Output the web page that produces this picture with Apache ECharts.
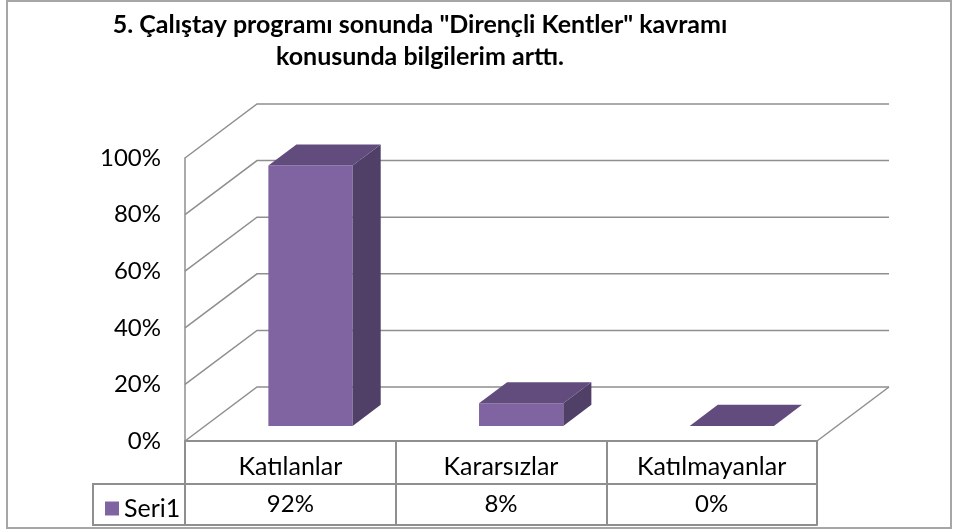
<!DOCTYPE html>
<html lang="tr">
<head>
<meta charset="UTF-8">
<title>Dirençli Kentler</title>
<script src="https://cdn.jsdelivr.net/npm/echarts@6/dist/echarts.min.js"></script>
<style>html,body{margin:0;padding:0;background:#fff}</style>
</head>
<body>
<div id="chart" style="width:953px;height:531px;"></div>
<script>
const categories = ['Katılanlar', 'Kararsızlar', 'Katılmayanlar'];
const values = [92, 8, 0];
const yTicks = [0, 20, 40, 60, 80, 100];
const seriesName = 'Seri1';

const myChart = echarts.init(document.getElementById('chart'));

// 3B görünüm: derinlik kayması (piksel)
const DX = 72, DY = -54;
const D0 = 0.28, D1 = 0.67;   // çubuğun derinlikteki yeri
const BAR_W = 0.4;            // bant genişliğine oranı
const lineColor = '#8f8f8f';
const font = 'Lato';

// arka duvar, sol duvar ve zemin çizgileri
function renderWalls(params, api) {
  const cs = params.coordSys;
  const left = cs.x, right = cs.x + cs.width;
  const children = [];
  yTicks.forEach(t => {
    const y = api.coord([0, t])[1];
    children.push({
      type: 'polyline',
      shape: { points: [[left, y], [left + DX, y + DY], [right + DX, y + DY]] },
      style: { stroke: lineColor, lineWidth: 1.5, fill: null }
    });
  });
  const y0 = api.coord([0, 0])[1];
  children.push({
    type: 'line',
    shape: { x1: right, y1: y0, x2: right + DX, y2: y0 + DY },
    style: { stroke: lineColor, lineWidth: 1.5 }
  });
  return { type: 'group', children };
}

function renderBar(params, api) {
  const i = api.value(0), v = api.value(1);
  const base = api.coord([i, 0]);
  const top = api.coord([i, v]);
  const bw = api.size([1, 0])[0] * BAR_W;
  const xl = base[0] - bw / 2, xr = base[0] + bw / 2;
  const y0 = base[1], y1 = top[1];
  const p = (x, y, d) => [x + d * DX, y + d * DY];
  const children = [];
  if (v > 0) {
    children.push({
      type: 'polygon',
      shape: { points: [p(xl, y1, D0), p(xr, y1, D0), p(xr, y0, D0), p(xl, y0, D0)] },
      style: { fill: '#8064A2' }
    });
    children.push({
      type: 'polygon',
      shape: { points: [p(xr, y1, D0), p(xr, y1, D1), p(xr, y0, D1), p(xr, y0, D0)] },
      style: { fill: '#504068' }
    });
  }
  children.push({
    type: 'polygon',
    shape: { points: [p(xl, y1, D0), p(xl, y1, D1), p(xr, y1, D1), p(xr, y1, D0)] },
    style: { fill: '#614C7D' }
  });
  return { type: 'group', children };
}

const option = {
  animation: false,
  title: {
    text: '5. Çalıştay programı sonunda "Dirençli Kentler" kavramı\nkonusunda bilgilerim arttı.',
    left: 415,
    top: 4,
    textAlign: 'center',
    textStyle: { fontFamily: font, fontSize: 25, fontWeight: 'bold', color: '#000', lineHeight: 32 }
  },
  legend: {
    data: [seriesName],
    left: 100,
    top: 491,
    icon: 'rect',
    itemWidth: 14,
    itemHeight: 14,
    itemGap: 6,
    textStyle: { fontFamily: font, fontSize: 25, color: '#000' }
  },
  grid: { left: 185, right: 136, top: 158, bottom: 90 },
  xAxis: [
    {
      type: 'category',
      data: categories,
      position: 'bottom',
      axisLine: { lineStyle: { color: lineColor, width: 2 } },
      axisTick: { show: true, interval: 0, length: 84, lineStyle: { color: lineColor, width: 2 } },
      axisLabel: { margin: 13, fontFamily: font, fontSize: 25, color: '#000' }
    },
    {
      type: 'category',
      data: values.map(v => v + '%'),
      position: 'bottom',
      offset: 43,
      axisLine: { lineStyle: { color: lineColor, width: 2 } },
      axisTick: { show: false },
      axisLabel: { margin: 8, fontFamily: font, fontSize: 24, color: '#000' }
    },
    {
      type: 'category',
      data: categories,
      position: 'bottom',
      offset: 84,
      axisLine: { lineStyle: { color: lineColor, width: 2 } },
      axisTick: { show: false },
      axisLabel: { show: false }
    }
  ],
  yAxis: {
    type: 'value',
    min: 0,
    max: 100,
    interval: 20,
    axisLine: { show: true, lineStyle: { color: lineColor, width: 1.5 } },
    axisTick: { show: false },
    splitLine: { show: false },
    axisLabel: {
      formatter: '{value}%', margin: 24, padding: [6, 0, 0, 0],
      fontFamily: font, fontSize: 24, color: '#000'
    }
  },
  graphic: [
    {
      type: 'rect',
      shape: { x: 7, y: 1, width: 944, height: 527 },
      style: { fill: null, stroke: '#a6a6a6', lineWidth: 2 },
      silent: true
    },
    {
      type: 'polyline',
      shape: { points: [[185, 484], [93, 484], [93, 525], [185, 525]] },
      style: { fill: null, stroke: lineColor, lineWidth: 2 },
      silent: true
    }
  ],
  series: [
    {
      name: 'walls',
      type: 'custom',
      silent: true,
      renderItem: renderWalls,
      data: [[0, 0]],
      z: 1
    },
    {
      name: seriesName,
      type: 'custom',
      renderItem: renderBar,
      itemStyle: { color: '#8064A2' },
      encode: { x: 0, y: 1 },
      data: values.map((v, i) => [i, v]),
      z: 2
    }
  ]
};

myChart.setOption(option);
</script>
</body>
</html>
